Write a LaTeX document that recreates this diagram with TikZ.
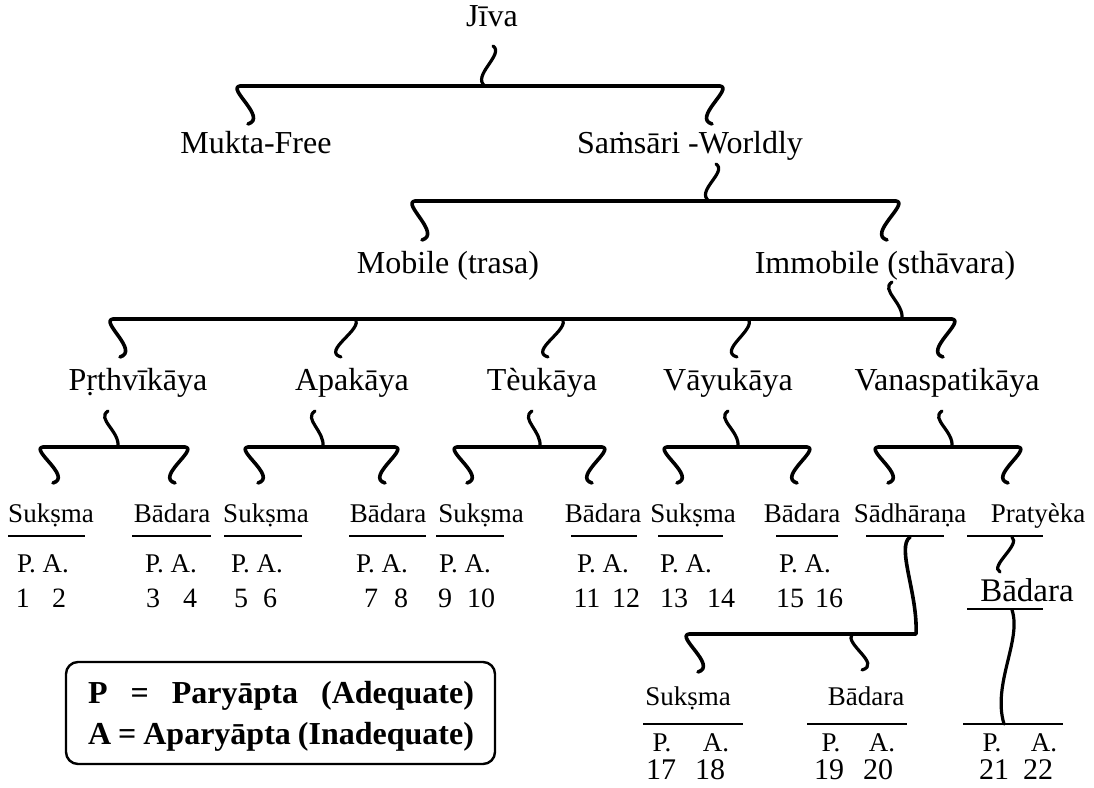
\documentclass[tikz,border=0pt]{standalone}
\usepackage{fontspec}
\setmainfont{Liberation Serif}
\begin{document}
\begin{tikzpicture}[x=1pt,y=-1pt]
\tikzset{
 lab/.style={inner sep=0pt, anchor=base, font=\fontsize{32}{36}\selectfont},
 leaf/.style={inner sep=0pt, anchor=base, font=\fontsize{27}{30}\selectfont},
 num/.style={inner sep=0pt, anchor=base, font=\fontsize{28}{30}\selectfont},
 bignum/.style={inner sep=0pt, anchor=base, font=\fontsize{30}{32}\selectfont},
 legtext/.style={inner sep=0pt, anchor=base, font=\bfseries\fontsize{32}{34}\selectfont},
 bar/.style={line width=3.6pt, line cap=round, line join=round},
 sq/.style={line width=3.2pt, line cap=round},
 ul/.style={line width=2.9pt},
}
\useasboundingbox (0,0) rectangle (1094,787);

% ---------- level 0 / 1
\node[lab] (jiva) at (492,27) {Jīva};
\node[lab] (mukta) at (256,153) {Mukta-Free};
\node[lab] (samsari) at (690,153) {Saṁsāri -Worldly};
\coordinate (j1) at (493,46); \coordinate (j2) at (485,86);
\coordinate (l1a) at (240,86); \coordinate (l1b) at (720,86);
\coordinate (m1) at (248,124); \coordinate (s0) at (712,124);
\draw[sq] (j1) .. controls +(12,8) and +(-14,-10) .. (j2);
\draw[bar] (m1) .. controls +(20,-6) and +(-14,2) .. (l1a) -- (l1b) .. controls +(14,2) and +(-20,-6) .. (s0);

% ---------- level 2
\node[lab] (mobile) at (448,273) {Mobile (trasa)};
\node[lab] (immobile) at (885,273) {Immobile (sthāvara)};
\coordinate (s1) at (716,164); \coordinate (s2) at (709,201);
\coordinate (l2a) at (415,201); \coordinate (l2b) at (896,201);
\coordinate (mo1) at (422,240); \coordinate (im0) at (887,240);
\draw[sq] (s1) .. controls +(12,8) and +(-14,-10) .. (s2);
\draw[bar] (mo1) .. controls +(20,-6) and +(-14,2) .. (l2a) -- (l2b) .. controls +(14,2) and +(-20,-6) .. (im0);

% ---------- level 3
\node[lab] (prth) at (138,390) {Pṛthvīkāya};
\node[lab] (apa) at (352,390) {Apakāya};
\node[lab] (teu) at (542,390) {Tèukāya};
\node[lab] (vayu) at (728,390) {Vāyukāya};
\node[lab] (vana) at (947,390) {Vanaspatikāya};
\coordinate (i1) at (892,282); \coordinate (i2) at (902,319);
\draw[sq] (i1) .. controls +(-12,8) and +(2,-16) .. (i2);
\coordinate (l3a) at (113,319); \coordinate (l3b) at (952,319);
\coordinate (p0) at (120,357); \coordinate (v0) at (943,357);
\draw[bar] (p0) .. controls +(20,-6) and +(-14,2) .. (l3a) -- (l3b) .. controls +(14,2) and +(-20,-6) .. (v0);
\coordinate (a0t) at (355,319); \coordinate (a0) at (341,357);
\coordinate (t0t) at (562,319); \coordinate (t0) at (548,357);
\coordinate (w0t) at (748,319); \coordinate (w0) at (737,357);
\foreach \u/\v in {a0t/a0, t0t/t0, w0t/w0}
  \draw[sq] (\u) .. controls +(9,10) and +(-20,-6) .. (\v);

% stems below level 3 labels
\coordinate (ps1) at (108,411); \coordinate (ps2) at (118,447);
\coordinate (as1) at (315,411); \coordinate (as2) at (323,447);
\coordinate (ts1) at (532,411); \coordinate (ts2) at (540,447);
\coordinate (ws1) at (728,411); \coordinate (ws2) at (738,447);
\coordinate (vs1) at (942,411); \coordinate (vs2) at (952,447);
\foreach \u/\v in {ps1/ps2, as1/as2, ts1/ts2, ws1/ws2, vs1/vs2}
  \draw[sq] (\u) .. controls +(-12,8) and +(2,-16) .. (\v);

% sub-brackets
\foreach \n/\xa/\xb in {p/43/185, a/248/395, t/457/602, w/667/807, v/878/1018}{
  \coordinate (\n L) at (\xa,447); \coordinate (\n R) at (\xb,447);
  \coordinate (\n Lb) at (\xa+10,483); \coordinate (\n Rb) at (\xb-10,483);
  \draw[bar] (\n Lb) .. controls +(20,-6) and +(-14,2) .. (\n L) -- (\n R) .. controls +(14,2) and +(-20,-6) .. (\n Rb);
}

% ---------- leaves
\node[leaf] (su1) at (51,522) {Sukṣma};
\node[leaf] (ba1) at (172,522) {Bādara};
\node[leaf] (su2) at (266,522) {Sukṣma};
\node[leaf] (ba2) at (388,522) {Bādara};
\node[leaf] (su3) at (481,522) {Sukṣma};
\node[leaf] (ba3) at (603,522) {Bādara};
\node[leaf] (su4) at (693,522) {Sukṣma};
\node[leaf] (ba4) at (802,522) {Bādara};
\node[leaf] (sadh) at (910,522) {Sādhāraṇa};
\node[leaf] (prat) at (1038,522) {Pratyèka};
\foreach \xa/\xb in {8/85, 132/211, 224/302, 349/426, 436/504, 571/637, 658/723, 776/838, 866/944, 967/1043}
  \draw[ul] (\xa,536) -- (\xb,536);

\foreach \n/\x in {1/43, 2/171, 3/257, 4/382, 5/465, 6/603, 7/686, 8/805}
  \node[leaf] (pa\n) at (\x,572) {P. A.};
\foreach \n/\x in {1/23, 2/59, 3/153, 4/190, 5/241, 6/270, 7/371, 8/401, 9/445, 10/481, 11/587, 12/626, 13/674, 14/721, 15/790, 16/829}
  \node[num] (n\n) at (\x,607) {\n};

% ---------- Sadharana branch
\coordinate (sd1) at (910,537); \coordinate (sd2) at (916,634);
\coordinate (l4a) at (689,634); \coordinate (sk0) at (698,672);
\coordinate (bd0t) at (852,634); \coordinate (bd0) at (862,670);
\draw[bar] (sd1) .. controls +(-14,10) and +(2,-40) .. (sd2) -- (l4a) .. controls +(-14,2) and +(20,-6) .. (sk0);
\draw[sq] (bd0t) .. controls +(-8,10) and +(20,-6) .. (bd0);
\node[leaf] (su5) at (688,705) {Sukṣma};
\node[leaf] (ba5) at (866,705) {Bādara};

% ---------- Pratyeka branch
\coordinate (pr1) at (1012,537); \coordinate (pr2) at (1000,572);
\draw[sq] (pr1) .. controls +(9,8) and +(-11,-6) .. (pr2);
\node[inner sep=0pt, anchor=base, font=\fontsize{33}{36}\selectfont] (ba6) at (1027,601) {Bādara};
\draw[ul] (967,609) -- (1043,609);
\coordinate (bb1) at (1012,610); \coordinate (bb2) at (1004,724);
\draw[sq] (bb1) .. controls +(10,30) and +(-12,-40) .. (bb2);

\foreach \xa/\xb in {643/743, 807/907, 963/1063}
  \draw[ul] (\xa,724) -- (\xb,724);
\foreach \n/\x/\t in {p17/662/P., a18/716/A., p19/831/P., a20/882/A., p21/992/P., a22/1044/A.}
  \node[leaf] (\n) at (\x,751) {\t};
\foreach \n/\x in {17/661, 18/710, 19/829, 20/878, 21/994, 22/1038}
  \node[bignum] (n\n) at (\x,779) {\n};

% ---------- legend
\draw[line width=2.4pt, rounded corners=12pt] (66,662) rectangle (495,764);
\node[legtext] (leg1) at (281,703) {\makebox[386pt][s]{P\hfill=\hfill Paryāpta\hfill(Adequate)}};
\node[legtext] (leg2) at (281,744) {\makebox[386pt][s]{A = Aparyāpta (Inadequate)}};
\end{tikzpicture}
\end{document}
